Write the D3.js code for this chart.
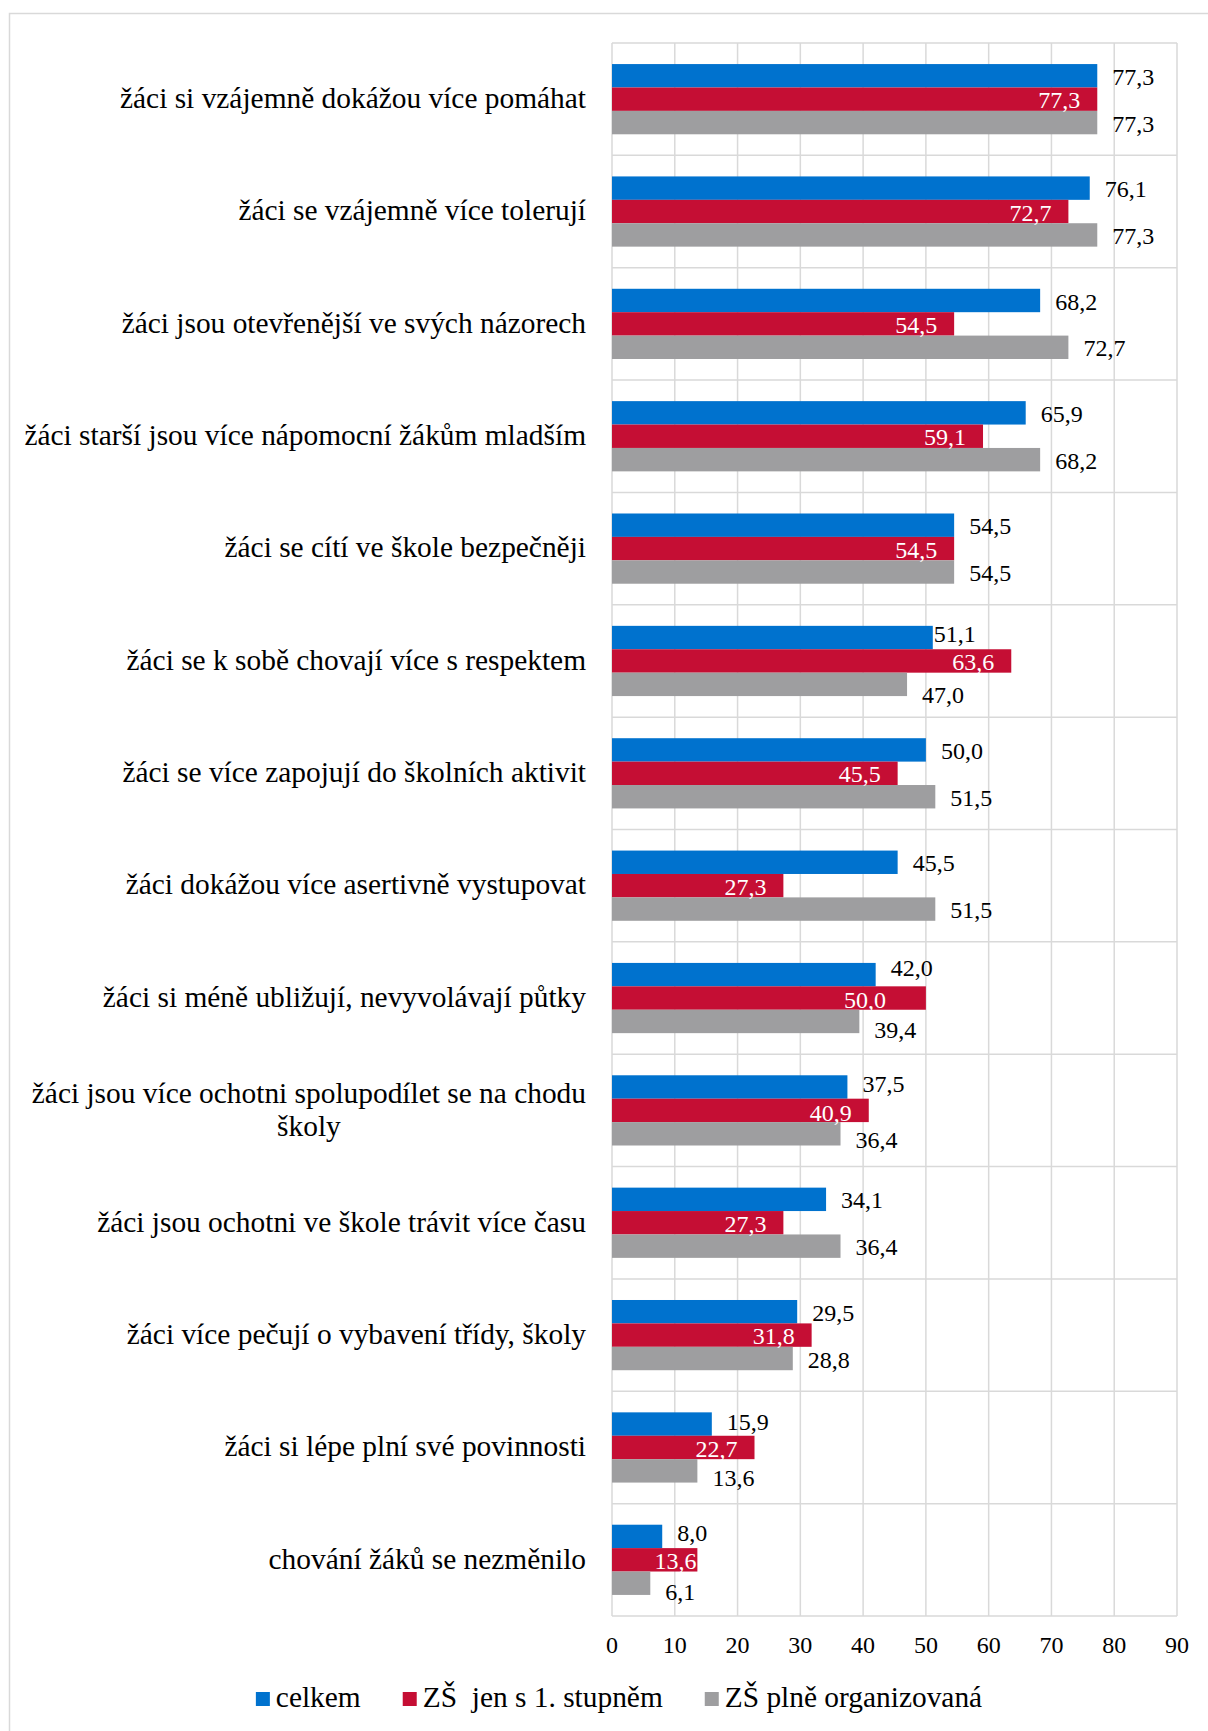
<!DOCTYPE html>
<html>
<head>
<meta charset="utf-8">
<script src="https://cdn.jsdelivr.net/npm/d3@7"></script>
<style>
  html, body { margin: 0; padding: 0; background: #fff; }
  svg { display: block; }
  text { font-family: "Liberation Serif", "Times New Roman", serif; }
</style>
</head>
<body>
<svg id="chart" width="1208" height="1731"></svg>
<script>
// ---- data ----
const categories = [
  "žáci si vzájemně dokážou více pomáhat",
  "žáci se vzájemně více tolerují",
  "žáci jsou otevřenější ve svých názorech",
  "žáci starší jsou více nápomocní žákům mladším",
  "žáci se cítí ve škole bezpečněji",
  "žáci se k sobě chovají více s respektem",
  "žáci se více zapojují do školních aktivit",
  "žáci dokážou více asertivně vystupovat",
  "žáci si méně ubližují, nevyvolávají půtky",
  "žáci jsou více ochotni spolupodílet se na chodu\nškoly",
  "žáci jsou ochotni ve škole trávit více času",
  "žáci více pečují o vybavení třídy, školy",
  "žáci si lépe plní své povinnosti",
  "chování žáků se nezměnilo"
];
const seriesNames = ["celkem", "ZŠ  jen s 1. stupněm", "ZŠ plně organizovaná"];
const celkem     = [77.3, 76.1, 68.2, 65.9, 54.5, 51.1, 50.0, 45.5, 42.0, 37.5, 34.1, 29.5, 15.9, 8.0];
const zsPrvni    = [77.3, 72.7, 54.5, 59.1, 54.5, 63.6, 45.5, 27.3, 50.0, 40.9, 27.3, 31.8, 22.7, 13.6];
const zsPlne     = [77.3, 77.3, 72.7, 68.2, 54.5, 47.0, 51.5, 51.5, 39.4, 36.4, 36.4, 28.8, 13.6, 6.1];
const xTicks = [0, 10, 20, 30, 40, 50, 60, 70, 80, 90];

// ---- label nudges (layout only, as in the original) [dx, dy] per series per category ----
const labelNudge = [
  [[0,0],[0,0],[0,0]], [[0,0],[0,0],[0,0]], [[0,0],[0,0],[0,0]], [[0,0],[0,0],[0,0]],
  [[0,0],[0,0],[0,0]], [[-14,-5],[0,0],[0,9]], [[0,0],[0,0],[0,0]], [[0,0],[0,0],[0,0]],
  [[0,-8],[-23,1],[0,7]], [[0,-4],[0,1],[0,5]], [[0,0],[0,0],[0,0]], [[0,0],[0,0],[0,0]],
  [[0,-3],[0,0],[0,6]], [[0,-5],[16,0],[0,8]]
];

const colors = ["#0072CE", "#C50E34", "#9E9EA0"];
const gridColor = "#D9D9D9";

const series = [celkem, zsPrvni, zsPlne];
const rows = categories.map((c, i) => ({ cat: c, vals: series.map(s => s[i]), i }));

const svg = d3.select("#chart");

// outer chart border
svg.append("rect")
  .attr("x", 9.5).attr("y", 13.5)
  .attr("width", 1250).attr("height", 1800)
  .attr("fill", "none").attr("stroke", gridColor).attr("stroke-width", 1.5);

const plot = { left: 612, right: 1177, top: 43, bottom: 1616 };

const x = d3.scaleLinear().domain([0, 90]).range([plot.left, plot.right]);
const y0 = d3.scaleBand().domain(categories).range([plot.top, plot.bottom]).padding(0);
const y1 = d3.scaleBand().domain(seriesNames).range([0, y0.bandwidth()])
  .paddingInner(0).paddingOuter(0.9);

// grid: vertical lines
svg.append("g").selectAll("line.v").data(xTicks).join("line")
  .attr("x1", d => x(d)).attr("x2", d => x(d))
  .attr("y1", plot.top).attr("y2", plot.bottom)
  .attr("stroke", gridColor).attr("stroke-width", 1.5);

// grid: horizontal lines at category boundaries
const hLines = categories.map(c => y0(c)).concat([plot.bottom]);
svg.append("g").selectAll("line.h").data(hLines).join("line")
  .attr("x1", plot.left).attr("x2", plot.right)
  .attr("y1", d => d).attr("y2", d => d)
  .attr("stroke", gridColor).attr("stroke-width", 1.5);

// bars
const groups = svg.append("g").selectAll("g.cat").data(rows).join("g")
  .attr("transform", d => `translate(0,${y0(d.cat)})`);

groups.selectAll("rect").data(d => d.vals.map((v, k) => ({ v, k, i: d.i }))).join("rect")
  .attr("x", x(0))
  .attr("y", d => y1(seriesNames[d.k]))
  .attr("width", d => x(d.v) - x(0))
  .attr("height", y1.bandwidth())
  .attr("fill", d => colors[d.k]);

// data labels
const fmt = v => v.toFixed(1).replace(".", ",");
groups.selectAll("text.val").data(d => d.vals.map((v, k) => ({ v, k, i: d.i }))).join("text")
  .attr("class", "val")
  .attr("x", d => {
    const n = labelNudge[d.i][d.k][0];
    return d.k === 1 ? x(d.v) - 17 + n : x(d.v) + 15 + n;
  })
  .attr("y", d => y1(seriesNames[d.k]) + y1.bandwidth() / 2 + 1 + labelNudge[d.i][d.k][1])
  .attr("dy", "0.34em")
  .attr("text-anchor", d => d.k === 1 ? "end" : "start")
  .attr("fill", d => d.k === 1 ? "#FFFFFF" : "#000000")
  .attr("font-size", 24)
  .text(d => fmt(d.v));

// category labels
const labelRight = 586;
const catG = svg.append("g");
rows.forEach(r => {
  const lines = r.cat.split("\n");
  const cy = y0(r.cat) + y0.bandwidth() / 2;
  const lh = 33;
  const t = catG.append("text")
    .attr("font-size", 29.4)
    .attr("fill", "#000");
  lines.forEach((ln, j) => {
    t.append("tspan")
      .attr("y", cy + (j - (lines.length - 1) / 2) * lh)
      .attr("dy", "0.3em")
      .text(ln);
  });
  if (lines.length === 1) {
    t.attr("text-anchor", "end");
    t.selectAll("tspan").attr("x", labelRight);
  } else {
    let maxW = 0;
    t.selectAll("tspan").each(function () { maxW = Math.max(maxW, this.getComputedTextLength()); });
    t.attr("text-anchor", "middle");
    t.selectAll("tspan").attr("x", labelRight - maxW / 2);
  }
});

// x tick labels
svg.append("g").selectAll("text").data(xTicks).join("text")
  .attr("x", d => x(d)).attr("y", 1653)
  .attr("text-anchor", "middle")
  .attr("font-size", 24)
  .attr("fill", "#000")
  .text(d => d);

// legend
const legend = svg.append("g");
const sq = 14, gapSq = 6, gapItem = 42, legendBase = 1707, legendCenter = 619;
const items = seriesNames.map((name, k) => {
  const g = legend.append("g");
  g.append("rect").attr("width", sq).attr("height", sq).attr("y", legendBase - 15).attr("fill", colors[k]);
  const t = g.append("text").attr("x", sq + gapSq).attr("y", legendBase)
    .attr("font-size", 29.4).attr("fill", "#000")
    .style("white-space", "pre").text(name);
  return { g, w: sq + gapSq + t.node().getComputedTextLength() };
});
const total = d3.sum(items, d => d.w) + gapItem * (items.length - 1);
let cx = legendCenter - total / 2;
items.forEach(it => { it.g.attr("transform", `translate(${cx},0)`); cx += it.w + gapItem; });
</script>
</body>
</html>
